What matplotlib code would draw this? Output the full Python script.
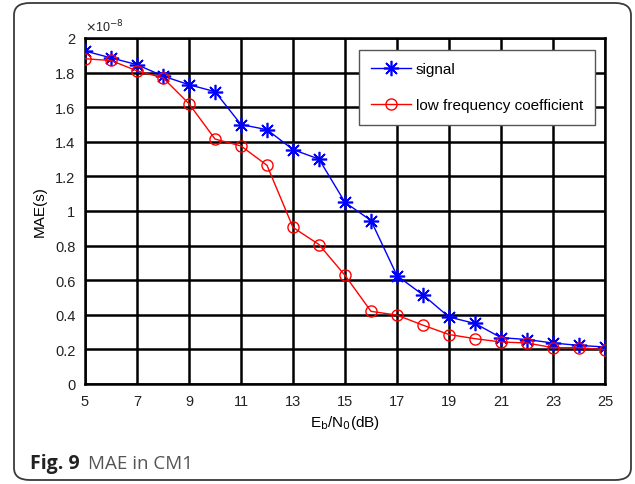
import numpy as np
import matplotlib.pyplot as plt
from matplotlib.patches import FancyBboxPatch
from matplotlib.ticker import FuncFormatter

# data (MAE in units of 1e-8 s)
ebn0 = list(range(5, 26))
signal = [1.925, 1.885, 1.846, 1.78, 1.73, 1.69, 1.50, 1.47, 1.355, 1.30, 1.05,
          0.945, 0.626, 0.515, 0.387, 0.35, 0.268, 0.257, 0.237, 0.223, 0.214]
low_freq = [1.88, 1.87, 1.81, 1.77, 1.62, 1.416, 1.376, 1.264, 0.905, 0.806, 0.628,
            0.42, 0.398, 0.34, 0.286, 0.262, 0.243, 0.237, 0.21, 0.21, 0.198]
x_ticks = [5, 7, 9, 11, 13, 15, 17, 19, 21, 23, 25]
y_ticks = [0, 0.2, 0.4, 0.6, 0.8, 1.0, 1.2, 1.4, 1.6, 1.8, 2.0]

plt.rcParams['font.family'] = ['Liberation Sans', 'DejaVu Sans']

fig = plt.figure(figsize=(6.35, 4.85), dpi=100)

# rounded card border
card = FancyBboxPatch((14 / 635, 4 / 485), 617 / 635, 477 / 485,
                      boxstyle="round,pad=0,rounding_size=0.025",
                      transform=fig.transFigure, facecolor='white',
                      edgecolor='#3a3a3a', linewidth=1.3, zorder=-5)
fig.patches.append(card)

ax = fig.add_axes([85 / 635, 1 - 385 / 485, 520 / 635, 346 / 485])
ax.set_zorder(2)
ax.set_facecolor('white')

ax.plot(ebn0, signal, color='#0000ff', linewidth=1.0, marker=(8, 2, 0), markersize=11,
        markeredgewidth=1.2, label='signal', zorder=3)
ax.plot(ebn0, low_freq, color='#ff0000', linewidth=1.0, marker='o', markersize=8,
        markerfacecolor='none', markeredgewidth=1.0, label='low frequency coefficient',
        zorder=3)

ax.set_xlim(5, 25)
ax.set_ylim(0, 2)
ax.set_xticks(x_ticks)
ax.set_yticks(y_ticks)
ax.yaxis.set_major_formatter(FuncFormatter(lambda v, p: '%g' % v))
ax.grid(True, color='black', linewidth=1.8, linestyle='-')
ax.set_axisbelow(True)
for s in ax.spines.values():
    s.set_linewidth(1.8)
ax.tick_params(direction='in', length=0, labelsize=10.5, pad=7, colors='#222222')

ax.text(0.0, 1.01, r'$\times$10$^{\mathrm{-8}}$', transform=ax.transAxes, fontsize=9,
        ha='left', va='bottom', color='#222222')

ax.set_xlabel(r'E$_\mathrm{b}$/N$_\mathrm{0}$(dB)', fontsize=11, labelpad=4)
ax.set_ylabel('MAE(s)', fontsize=11, labelpad=6)

leg = ax.legend(loc='upper right', bbox_to_anchor=(0.981, 0.965), borderaxespad=0,
                fontsize=11, frameon=True, fancybox=False, edgecolor='#555555',
                framealpha=1, handlelength=2.6, borderpad=0.8, labelspacing=1.45,
                handletextpad=0.3)
leg.get_frame().set_linewidth(1.0)

fig.text(30 / 635, 1 - 469 / 485, 'Fig. 9', fontsize=14, fontweight='bold',
         family=['Open Sans', 'DejaVu Sans'], color='#222222', va='baseline')
fig.text(88 / 635, 1 - 469 / 485, 'MAE in CM1', fontsize=13.5,
         family=['Open Sans', 'DejaVu Sans'], color='#555555', va='baseline')

fig.savefig('out.png', dpi=100)
